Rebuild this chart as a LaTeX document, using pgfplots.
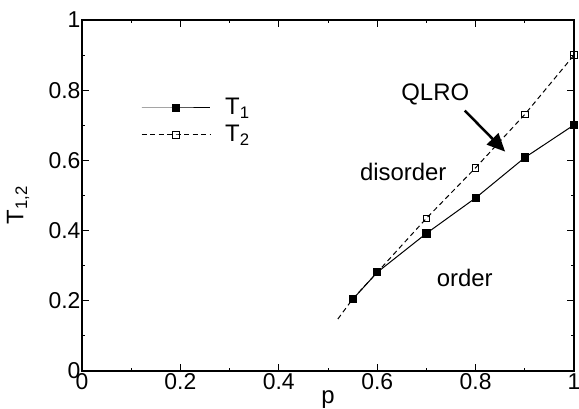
\documentclass[border=0pt]{standalone}
\usepackage{fontspec}
\setmainfont{Liberation Sans}
\usepackage{pgfplots}
\pgfplotsset{compat=1.18}
\usetikzlibrary{arrows.meta}
\begin{document}
\begin{tikzpicture}
\begin{axis}[
  at={(0,0)}, anchor=south west,
  scale only axis, width=492bp, height=351bp,
  xmin=0, xmax=1, ymin=0, ymax=1,
  xtick={0,0.2,0.4,0.6,0.8,1}, ytick={0,0.2,0.4,0.6,0.8,1},
  xticklabels={0,0.2,0.4,0.6,0.8,1},
  yticklabels={0,0.2,0.4,0.6,0.8,1},
  minor tick num=1,
  tick align=inside,
  major tick length=7bp, minor tick length=3.5bp,
  axis line style={line width=1.3bp},
  every tick/.style={line width=1bp, black},
  tick label style={font=\fontsize{23}{27}\selectfont},
  /pgf/number format/assume math mode=true,
  yticklabel style={xshift=2bp},
  xticklabel style={yshift=1bp},
  xlabel={p},
  xlabel style={at={(axis description cs:0.5,0)}, anchor=base, yshift=-32bp, font=\fontsize{24}{28}\selectfont},
  ylabel={T\textsubscript{1,2}},
  ylabel style={at={(axis description cs:-0.1301,0.473)}, anchor=center, font=\fontsize{24}{28}\selectfont},
  clip=false,
]
% T2 (open squares, dashed)
\addplot[black, line width=1bp, dash pattern=on 5bp off 3.5bp, mark=square, mark size=3.3bp,
  mark options={solid, fill=white, line width=1bp}, mark indices={2,3,4,5,6,7}]
  coordinates {(0.52,0.148)(0.55,0.205)(0.6,0.281)(0.7,0.435)(0.8,0.579)(0.9,0.731)(1.0,0.900)};
% T1 (filled squares, solid)
\addplot[black, line width=1bp, mark=square*, mark size=3.6bp, mark options={solid, fill=black}]
  coordinates {(0.55,0.204)(0.6,0.281)(0.7,0.392)(0.8,0.493)(0.9,0.608)(1.0,0.701)};
% legend samples
\addplot[black, line width=1bp, mark=square*, mark size=3.6bp, mark options={solid, fill=black}, mark indices={2}]
  coordinates {(0.1213,0.7493)(0.1911,0.7493)(0.2602,0.7493)};
\addplot[black, line width=1bp, dash pattern=on 5bp off 3.5bp, mark=square, mark size=3.3bp,
  mark options={solid, fill=white, line width=1bp}, mark indices={2}]
  coordinates {(0.1213,0.6724)(0.1911,0.6724)(0.2602,0.6724)};
\node[anchor=west, inner sep=0pt, font=\fontsize{24}{28}\selectfont] at (axis cs:0.2907,0.7493) {T\textsubscript{1}};
\node[anchor=west, inner sep=0pt, font=\fontsize{24}{28}\selectfont] at (axis cs:0.2907,0.6724) {T\textsubscript{2}};
% annotations
\node[anchor=center, inner sep=0pt, font=\fontsize{24}{28}\selectfont] at (axis cs:0.718,0.789) {QLRO};
\node[anchor=base, inner sep=0pt, font=\fontsize{24}{28}\selectfont] at (axis cs:0.653,0.544) {disorder};
\node[anchor=base, inner sep=0pt, font=\fontsize{24}{28}\selectfont] at (axis cs:0.778,0.240) {order};
\draw[line width=2.5bp, -{Triangle[length=18bp, width=16bp]}] (axis cs:0.778,0.742) -- (axis cs:0.860,0.625);
\end{axis}
\pgfresetboundingbox
\path[use as bounding box] (-82bp,-38bp) rectangle (497bp,371bp);
\end{tikzpicture}
\end{document}
